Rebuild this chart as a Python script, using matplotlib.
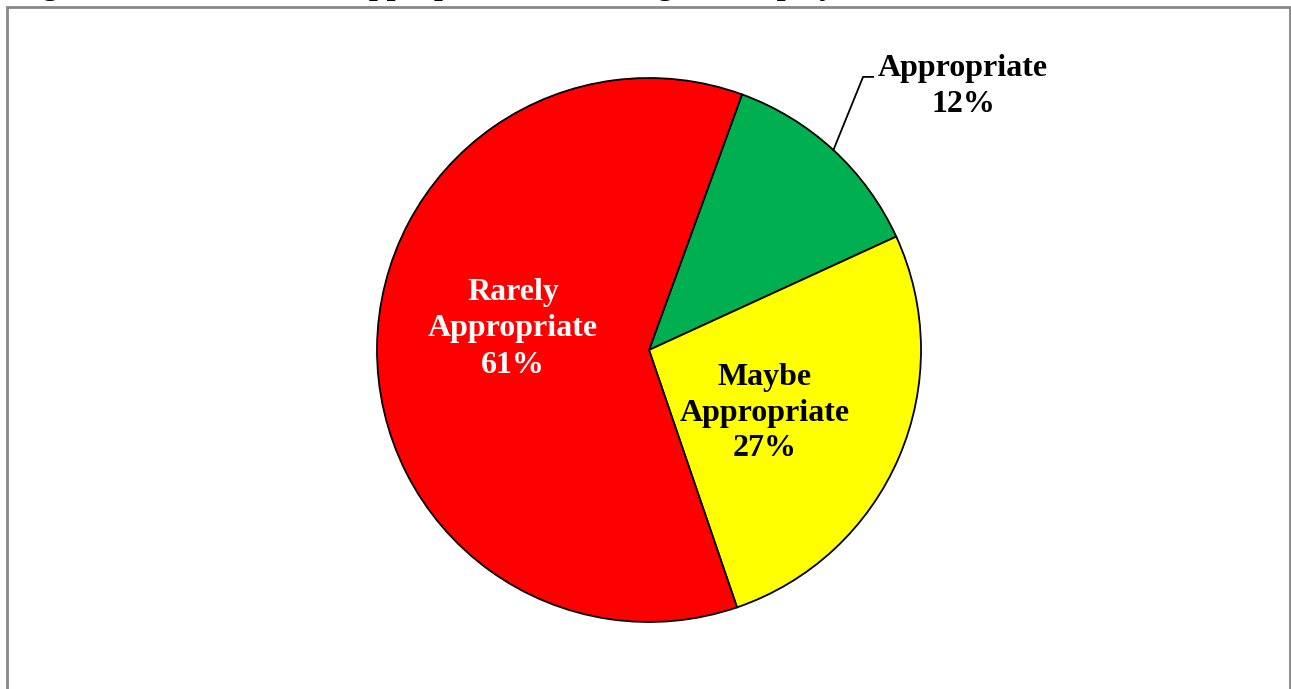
import numpy as np
import matplotlib.pyplot as plt
from matplotlib.patches import Rectangle

categories = ['Appropriate', 'Maybe\nAppropriate', 'Rarely\nAppropriate']
shares = [12.6, 26.6, 60.8]
pct_labels = ['12%', '27%', '61%']
colors = ['#00B050', '#FFFF00', '#FF0000']
title = 'Figure 3: Breakdown of Appropriateness Ratings of Employment Selection Measures'

plt.rcParams['font.family'] = ['Liberation Serif', 'DejaVu Serif']

W, H = 1291, 689
fig = plt.figure(figsize=(W / 100, H / 100), dpi=100)

# grey chart frame (open at the bottom, cut off by the page)
fig.add_artist(Rectangle((6.5 / W, -0.05), (1290 - 6.5) / W, (H - 7) / H + 0.05,
                         transform=fig.transFigure, fill=False,
                         edgecolor='#888888', lw=2))
# title is cut off by the top of the page in the original
fig.text(14 / W, (H + 6) / H, title, fontsize=23, fontweight='bold',
         ha='left', va='baseline')

cx, cy, r = 649, 350, 272
ax = fig.add_axes([(cx - r) / W, (H - cy - r) / H, 2 * r / W, 2 * r / H])
wedges, _ = ax.pie(shares, colors=colors, startangle=70, counterclock=False,
                   wedgeprops=dict(edgecolor='black', linewidth=1.3))
ax.set_xlim(-1, 1)
ax.set_ylim(-1, 1)
ax.set_aspect('equal')
ax.axis('off')

# inside labels
ax.text(-0.50, 0.078, categories[2] + '\n' + pct_labels[2], ha='center', va='center',
        fontsize=23, fontweight='bold', color='white', linespacing=1.35)
ax.text(0.425, -0.232, categories[1] + '\n' + pct_labels[1], ha='center', va='center',
        fontsize=23, fontweight='bold', color='black', linespacing=1.3)

# outside label with leader line for the small slice
w = wedges[0]
mid = np.deg2rad((w.theta1 + w.theta2) / 2)
ex, ey = np.cos(mid), np.sin(mid)
ax.plot([ex, 0.787, 0.824], [ey, 1.004, 1.004], color='black', lw=1.3,
        clip_on=False)
ax.text(1.155, 0.968, categories[0] + '\n' + pct_labels[0], ha='center', va='center',
        fontsize=23, fontweight='bold', color='black', linespacing=1.3)

fig.savefig('out.png', dpi=100)
